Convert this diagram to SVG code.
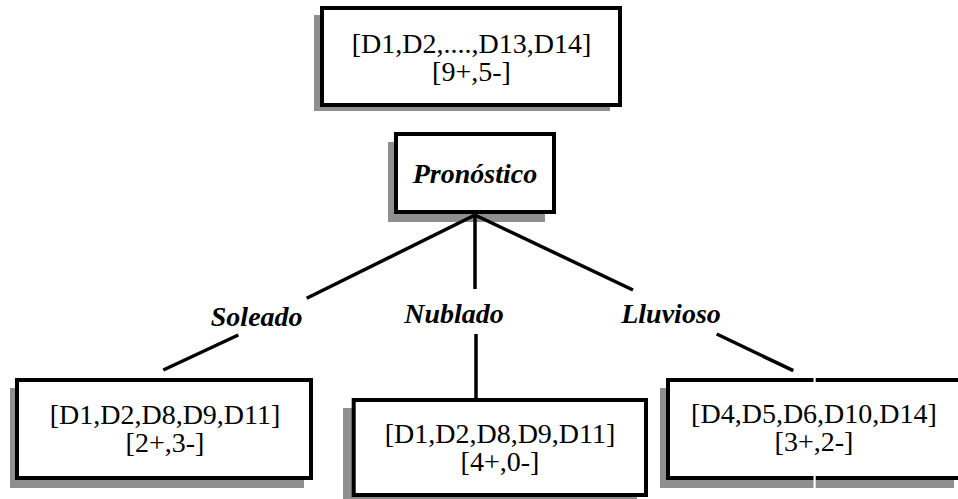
<svg xmlns="http://www.w3.org/2000/svg" width="958" height="499" viewBox="0 0 958 499">
<style>
.shadow{fill:#8f8f8f;stroke:none}
.box{fill:#fff;stroke:#000;stroke-width:4}
.t{font-family:"Liberation Serif","Times New Roman",serif;font-size:28px;fill:#000;text-anchor:middle}
.lbl{font-family:"Liberation Serif","Times New Roman",serif;font-size:28px;font-weight:bold;font-style:italic;fill:#000;text-anchor:middle}
.edge{stroke:#000;stroke-width:3.5;fill:none}
.gap{fill:#fff}
</style>
<rect width="958" height="499" fill="#fff"/>
<g id="root">
<rect class="shadow" x="314" y="15" width="296" height="96"/>
<rect class="box" x="322" y="8" width="298" height="97"/>
<text class="t" x="471.5" y="53">[D1,D2,....,D13,D14]</text>
<text class="t" x="471.5" y="81">[9+,5-]</text>
</g>
<g id="pronostico">
<rect class="shadow" x="388" y="142" width="157" height="80"/>
<rect class="box" x="396" y="134" width="158" height="78"/>
<text class="lbl" x="475" y="183">Pronóstico</text>
</g>
<g id="connectors">
<line class="edge" x1="475" y1="215" x2="306.7" y2="298.3"/>
<line class="edge" x1="475" y1="215" x2="475" y2="289"/>
<line class="edge" x1="475" y1="215" x2="633" y2="290"/>
<line class="edge" x1="238.3" y1="335" x2="163.3" y2="370"/>
<line class="edge" x1="476" y1="334" x2="476" y2="398"/>
<line class="edge" x1="716.7" y1="334" x2="793.3" y2="370.7"/>
</g>
<g id="labels">
<text class="lbl" x="256.7" y="326">Soleado</text>
<text class="lbl" x="454" y="323">Nublado</text>
<text class="lbl" x="671" y="323">Lluvioso</text>
</g>
<g id="soleado">
<rect class="shadow" x="10" y="388" width="294" height="100"/>
<rect class="box" x="17" y="380" width="294" height="98"/>
<text class="t" x="165" y="424">[D1,D2,D8,D9,D11]</text>
<text class="t" x="165" y="452">[2+,3-]</text>
</g>
<g id="nublado">
<rect class="shadow" x="343" y="408" width="294" height="100"/>
<rect class="box" x="353.7" y="400" width="292.3" height="95"/>
<text class="t" x="500" y="443">[D1,D2,D8,D9,D11]</text>
<text class="t" x="500" y="471">[4+,0-]</text>
</g>
<g id="lluvioso">
<rect class="shadow" x="660" y="388" width="294" height="100"/>
<rect class="box" x="668" y="380" width="294" height="98"/>
<text class="t" x="814" y="423">[D4,D5,D6,D10,D14]</text>
<text class="t" x="814" y="451">[3+,2-]</text>
<rect class="gap" x="813.5" y="374" width="2.2" height="10"/>
<rect class="gap" x="813.5" y="474" width="2.2" height="18"/>
</g>
</svg>
